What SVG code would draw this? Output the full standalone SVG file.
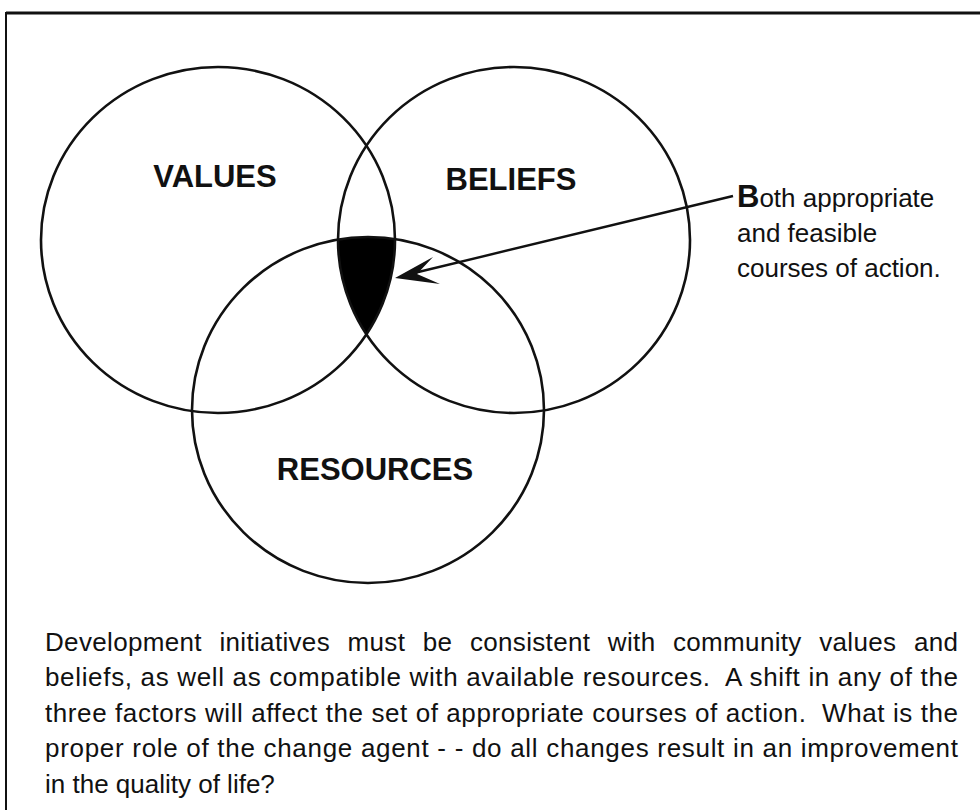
<svg xmlns="http://www.w3.org/2000/svg" width="980" height="810" viewBox="0 0 980 810">
<style>
.c{fill:none;stroke:#111;stroke-width:2.6}
.lbl{font-family:"Liberation Sans",Arial,sans-serif;font-weight:bold;font-size:31px;fill:#111;text-anchor:middle}
.t{font-family:"Liberation Sans",Arial,sans-serif;font-size:26px;fill:#111}
.frame{stroke:#111;fill:none}
</style>
<defs>
<clipPath id="cpV"><ellipse cx="218" cy="240" rx="177" ry="173"/></clipPath>
<clipPath id="cpB"><ellipse cx="514" cy="240" rx="176" ry="173"/></clipPath>
</defs>
<rect width="980" height="810" fill="#fff"/>
<g id="frame">
<line class="frame" x1="6" y1="13" x2="980" y2="13" stroke-width="3"/>
<line class="frame" x1="6" y1="12" x2="6" y2="810" stroke-width="2"/>
</g>
<g id="overlap">
<g clip-path="url(#cpB)"><g clip-path="url(#cpV)"><ellipse cx="368" cy="410" rx="176" ry="173" fill="#000"/></g></g>
</g>
<g id="values">
<ellipse class="c" cx="218" cy="240" rx="177" ry="173"/>
<text class="lbl" x="215" y="187">VALUES</text>
</g>
<g id="beliefs">
<ellipse class="c" cx="514" cy="240" rx="176" ry="173"/>
<text class="lbl" x="511" y="190">BELIEFS</text>
</g>
<g id="resources">
<ellipse class="c" cx="368" cy="410" rx="176" ry="173"/>
<text class="lbl" x="375" y="480">RESOURCES</text>
</g>
<g id="connectors">
<line x1="733" y1="196" x2="410" y2="274" stroke="#111" stroke-width="2.4"/>
<polygon points="395,278 433,257 417,274 440,284" fill="#111"/>
</g>
<g id="note">
<text class="t" x="737" y="207"><tspan font-weight="bold" font-size="31">B</tspan>oth appropriate</text>
<text class="t" x="737" y="242">and feasible</text>
<text class="t" x="737" y="277">courses of action.</text>
</g>
<g id="caption">
<text class="t" x="45" y="651" textLength="913" lengthAdjust="spacing" word-spacing="10">Development initiatives must be consistent with community values and</text>
<text class="t" x="45" y="686" textLength="913" lengthAdjust="spacing" xml:space="preserve">beliefs, as well as compatible with available resources.  A shift in any of the</text>
<text class="t" x="45" y="722" textLength="913" lengthAdjust="spacing" xml:space="preserve">three factors will affect the set of appropriate courses of action.  What is the</text>
<text class="t" x="45" y="757" textLength="913" lengthAdjust="spacing">proper role of the change agent - - do all changes result in an improvement</text>
<text class="t" x="45" y="793">in the quality of life?</text>
</g>
</svg>
